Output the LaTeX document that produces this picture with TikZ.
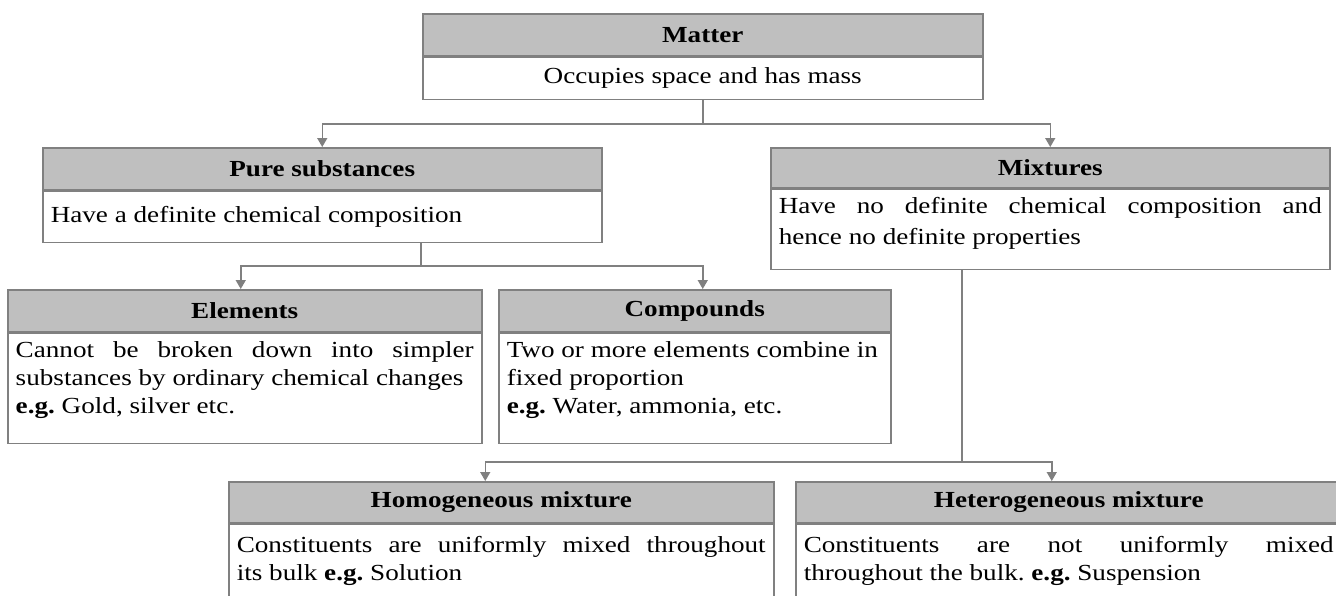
\documentclass[tikz,border=0pt]{standalone}
\usepackage{fontspec}
\setmainfont{Liberation Serif}[FakeStretch=1.18]
\usetikzlibrary{arrows.meta}
\definecolor{hdrgray}{RGB}{191,191,191}
\definecolor{lngray}{RGB}{128,128,128}
\newcommand\jline[1]{\makebox[\linewidth][s]{#1}}
\frenchspacing
\begin{document}
\begin{tikzpicture}[x=1pt,y=-1pt,
  txt/.style={font=\fontsize{23}{28}\selectfont},
  hdr/.style={draw=lngray, line width=1.5pt, fill=hdrgray, anchor=north west, inner sep=0pt,
              font=\fontsize{23}{28}\selectfont\bfseries},
  bodybox/.style={draw=lngray, line width=1.5pt, fill=white, anchor=north west, inner xsep=8pt,
              inner ysep=0pt, txt},
  conn/.style={draw=lngray, line width=1.5pt},
  arr/.style={conn, -{Triangle[length=9pt,width=10pt]}}]
\useasboundingbox[fill=white] (0,0) rectangle (1336,595);

% Matter
\node[hdr, minimum width=560pt, minimum height=42pt] (matH) at (422,13) {Matter};
\node[bodybox] (matB) at (matH.south west)
  {\parbox[c][42pt][c]{544pt}{\centering Occupies space and has mass}};

% Pure substances
\node[hdr, minimum width=559pt, minimum height=42pt] (purH) at (42,147) {Pure substances};
\node[bodybox] (purB) at (purH.south west)
  {\parbox[c][51pt][c]{543pt}{Have a definite chemical composition}};

% Mixtures
\node[hdr, minimum width=559pt, minimum height=40pt] (mixH) at (770,147) {Mixtures};
\node[bodybox] (mixB) at (mixH.south west)
  {\parbox[c][80pt][t]{543pt}{\fontsize{23}{31}\selectfont\vspace*{3pt}\strut
   \jline{Have no definite chemical composition and}\\hence no definite properties}};

% Elements
\node[hdr, minimum width=474pt, minimum height=42pt] (eleH) at (7,289) {Elements};
\node[bodybox] (eleB) at (eleH.south west)
  {\parbox[c][110pt][t]{458pt}{\vspace*{5pt}\strut
   \jline{Cannot be broken down into simpler}\\substances by ordinary chemical changes\\\textbf{e.g.} Gold, silver etc.}};

% Compounds
\node[hdr, minimum width=392pt, minimum height=42pt] (comH) at (498,289) {Compounds};
\node[bodybox] (comB) at (comH.south west)
  {\parbox[c][110pt][t]{376pt}{\vspace*{5pt}\strut
   Two or more elements combine in\\fixed proportion\\\textbf{e.g.} Water, ammonia, etc.}};

% Homogeneous mixture
\node[hdr, minimum width=545pt, minimum height=41pt] (homH) at (228,481) {Homogeneous mixture};
\node[bodybox] (homB) at (homH.south west)
  {\parbox[c][80pt][t]{529pt}{\vspace*{9pt}\strut
   \jline{Constituents are uniformly mixed throughout}\\its bulk \textbf{e.g.} Solution}};

% Heterogeneous mixture
\node[hdr, minimum width=546pt, minimum height=41pt] (hetH) at (795,481) {Heterogeneous mixture};
\node[bodybox] (hetB) at (hetH.south west)
  {\parbox[c][80pt][t]{530pt}{\vspace*{9pt}\strut
   \jline{Constituents are not uniformly mixed}\\throughout the bulk. \textbf{e.g.} Suspension}};

% connectors
\draw[arr] (matB.south) -- ++(0,24) -| (purH.north);
\draw[arr] (matB.south) -- ++(0,24) -| (mixH.north);
\draw[arr] ([xshift=379pt]purB.south west) -- ++(0,23) -| ([xshift=-4pt]eleH.north);
\draw[arr] ([xshift=379pt]purB.south west) -- ++(0,23) -| ([xshift=8pt]comH.north);
\draw[arr] ([xshift=192pt]mixB.south west) -- ++(0,192) -| ([xshift=-16pt]homH.north);
\draw[arr] ([xshift=192pt]mixB.south west) -- ++(0,192) -| ([xshift=-17pt]hetH.north);
\end{tikzpicture}
\end{document}
